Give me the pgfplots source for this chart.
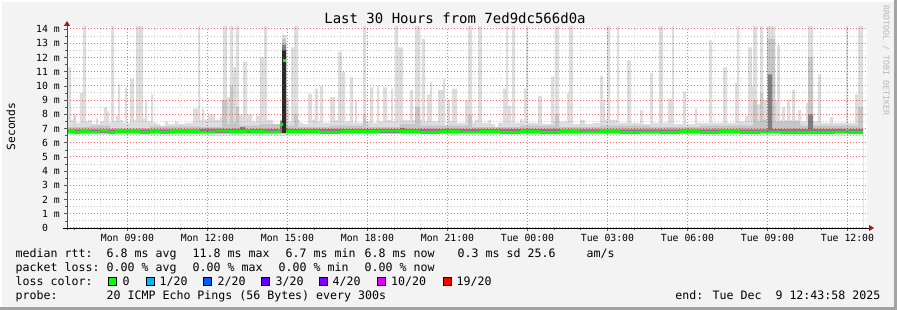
\documentclass[border=0pt]{standalone}
\usepackage{fontspec}
\setmainfont{DejaVu Sans Mono}
\usepackage{pgfplots}
\usepackage{pgfplotstable}
\pgfplotsset{compat=1.18}
\usetikzlibrary{arrows.meta}
\definecolor{canvas}{HTML}{F3F3F3}
\definecolor{frameDark}{HTML}{A3A3A3}
\definecolor{smokeA}{HTML}{DDDDDD}
\definecolor{smokeB}{HTML}{C6C6C6}
\definecolor{smokeD}{HTML}{2A2A2A}
\definecolor{smokeE}{HTML}{808080}
\definecolor{arrowred}{HTML}{A01818}
\definecolor{lossA}{HTML}{00FF00}
\definecolor{lossB}{HTML}{00B8FF}
\definecolor{lossC}{HTML}{0059FF}
\definecolor{lossD}{HTML}{5E00FF}
\definecolor{lossE}{HTML}{7E00FF}
\definecolor{lossF}{HTML}{DD00FF}
\definecolor{lossG}{HTML}{FF0000}
\definecolor{wmark}{HTML}{B8B8B8}

% x = time position in 2.25-minute units: 67 = Mon 06:43:58, 867 = Tue 12:43:58
\pgfplotstableread{
px v
67 7.4
68 11.3
71 7.6
73 8.0
76 7.4
80 9.5
83 14.5
86 7.5
88 7.6
92 7.3
96 7.7
98 7.3
100 7.5
104 8.5
107 8.2
109 7.4
111 14.5
114 7.5
116 7.9
118 10.1
120 7.6
123 7.4
125 9.9
127 7.4
130 10.5
134 7.6
136 14.5
143 7.7
145 9.0
147 7.5
151 9.4
153 7.4
157 7.3
160 7.2
165 7.5
168 7.3
175 7.5
178 7.3
185 7.4
193 8.4
198 14.5
200 7.6
202 8.4
204 7.6
208 8.0
215 7.6
220 7.8
223 14.5
227 9.2
230 14.5
233 11.3
236 14.5
239 8.0
243 11.7
247 8.0
252 7.5
256 7.9
260 12.0
264 14.5
267 7.6
273 7.3
280 7.4
282 13.6
286 9.1
289 7.5
291 12.7
294 14.5
298 7.6
300 7.4
303 7.3
308 9.45
312 7.6
315 9.8
318 7.5
320 10.0
323 7.4
330 9.2
335 7.6
338 12.4
342 11.0
345 7.5
350 10.6
353 7.4
355 9.0
357 7.4
363 14.5
366 7.5
370 9.9
373 7.4
377 10.0
379 7.5
383 9.9
387 7.6
391 9.8
393 7.5
395 14.5
398 12.7
403 7.6
410 9.7
413 7.6
415 14.5
420 7.6
422 13.3
425 7.5
427 9.4
430 10.3
432 7.5
438 9.7
443 10.5
445 7.2
447 9.0
450 7.5
452 9.8
457 7.4
465 9.0
468 14.5
472 7.4
475 7.6
478 14.5
482 7.4
488 7.6
491 7.3
495 7.1
498 7.4
503 9.8
506 14.5
508 8.6
511 7.4
512 14.5
515 7.4
520 7.7
523 7.4
524 9.8
526 14.5
528 7.4
538 9.3
542 7.3
551 10.65
554 7.5
555 14.5
559 7.5
567 9.5
569 14.5
573 7.3
580 7.6
585 7.3
593 7.4
600 10.7
603 9.0
605 7.6
607 14.5
610 7.6
617 14.5
619 7.4
627 11.8
631 7.4
640 8.3
643 7.3
650 10.9
653 7.4
659 14.5
663 7.4
668 9.1
672 14.5
674 7.3
683 9.6
686 7.3
695 8.4
697 7.4
709 13.2
712 7.4
723 11.3
727 7.4
735 10.2
737 14.5
739 7.5
745 7.9
748 12.7
752 10.0
753 14.5
757 8.7
760 14.5
763 9.0
767 14.5
775 9.0
777 12.9
780 7.6
782 8.5
785 7.6
787 9.0
790 7.6
792 9.7
795 7.6
798 8.3
801 7.5
806 8.8
808 14.5
813 7.5
818 10.8
821 7.4
830 7.8
833 7.4
846 14.5
848 7.4
855 9.4
858 14.5
863 14.5
}\smokehi

\pgfplotstableread{
px v
67 6.55
150 6.50
300 6.58
450 6.52
600 6.55
700 6.50
863 6.50
}\smokelo

\pgfplotstableread{
px v
67 7.10
90 7.20
110 7.00
150 7.15
200 7.10
222 9.0
227 7.3
230 10.0
233 7.4
236 8.5
239 7.2
260 7.3
280 7.6
282 13.3
286 7.2
294 8.0
298 7.1
330 7.2
363 8.0
366 7.1
400 7.3
415 8.5
420 7.2
468 8.0
472 7.1
520 7.2
555 8.0
559 7.1
600 7.2
650 7.1
700 7.2
753 9.0
757 7.5
760 9.5
763 7.6
767 13.3
775 7.5
800 7.2
808 12.0
813 7.2
858 8.5
863 8.5
}\midhi

\pgfplotstableread{
px v
67 6.62
863 6.62
}\midlo

\pgfplotstableread{
px v
67 6.93
200 6.98
240 7.10
245 6.95
280 7.50
282 12.9
286 6.95
400 7.05
405 6.95
560 6.93
768 10.8
772 6.95
808 8.0
813 6.95
863 6.95
}\darkhi

\pgfplotstableread{
px v
67 6.68
863 6.68
}\darklo

\pgfplotstableread{
px v
282 12.5
286 12.5
}\spikehi

\pgfplotstableread{
px v
67 6.78
75 6.74
80 6.80
90 6.76
100 6.82
108 6.74
115 6.78
125 6.80
140 6.74
150 6.78
160 6.72
170 6.78
185 6.80
200 6.76
215 6.82
230 6.78
247 6.90
250 6.78
265 6.76
278 6.80
280 7.30
283 11.8
286 6.80
300 6.78
320 6.74
340 6.80
360 6.78
380 6.82
400 6.78
420 6.74
440 6.80
460 6.76
480 6.80
500 6.74
520 6.78
540 6.72
560 6.78
580 6.76
600 6.80
620 6.74
640 6.76
660 6.72
680 6.78
700 6.74
720 6.78
740 6.72
760 6.76
780 6.74
800 6.70
820 6.72
835 6.76
846 6.86
849 6.74
863 6.74
}\median

\begin{document}
\begin{tikzpicture}
\useasboundingbox (0pt,0pt) rectangle (897pt,310pt);
\fill[canvas] (0pt,0pt) rectangle (897pt,310pt);
\fill[white] (0pt,0pt) rectangle (2pt,310pt);
\fill[white] (0pt,308pt) rectangle (897pt,310pt);
\fill[frameDark] (894pt,0pt) rectangle (897pt,310pt);
\fill[frameDark] (0pt,0pt) rectangle (897pt,3pt);

\begin{axis}[
  at={(67pt,82pt)}, anchor=south west,
  scale only axis, width=800pt, height=201pt,
  xmin=67, xmax=867, ymin=0, ymax=14.14,
  axis x line*=bottom, axis y line*=left,
  axis line style={draw=none},
  axis background/.style={fill=white},
  axis on top,
  xtick={127.459,207.459,...,847.5},
  xticklabels={Mon 09:00,Mon 12:00,Mon 15:00,Mon 18:00,Mon 21:00,Tue 00:00,Tue 03:00,Tue 06:00,Tue 09:00,Tue 12:00},
  minor xtick={74.126,100.7927,...,847.5},
  ytick={0,1,...,14},
  yticklabels={0\hphantom{\ m},1 m,2 m,3 m,4 m,5 m,6 m,7 m,8 m,9 m,10 m,11 m,12 m,13 m,14 m},
  minor ytick={0.5,1.5,...,13.5},
  grid=both,
  major x grid style={red, opacity=0.45, line width=1pt, dash pattern=on 1pt off 2pt},
  major y grid style={red, opacity=0.6, line width=1pt, dash pattern=on 1pt off 2pt},
  minor x grid style={black, opacity=0.12, line width=1pt, dash pattern=on 1pt off 2pt},
  minor y grid style={black, opacity=0.2, line width=1pt, dash pattern=on 1pt off 2pt},
  tick align=outside,
  major tick length=3pt, minor tick length=2pt,
  tick style={gray!70!black, line width=0.6pt},
  tick label style={font=\fontsize{9.8}{11}\selectfont, inner sep=0pt},
  xticklabel style={anchor=north},
  yticklabel style={anchor=east},
  xticklabel shift=3pt,
  yticklabel shift=4pt,
  /pgf/number format/assume math mode=true,
]
\addplot[const plot, fill=smokeA, draw=none] table[x=px,y=v] {\smokehi} \closedcycle;
\addplot[const plot, fill=smokeB, draw=none] table[x=px,y=v] {\midhi} \closedcycle;
\addplot[const plot, fill=smokeE, draw=none] table[x=px,y=v] {\darkhi} \closedcycle;
\addplot[const plot, fill=smokeD, draw=none] table[x=px,y=v] {\spikehi} \closedcycle;
\addplot[const plot, fill=smokeB, draw=none] table[x=px,y=v] {\darklo} \closedcycle;
\addplot[const plot, fill=smokeA, draw=none] table[x=px,y=v] {\midlo} \closedcycle;
\addplot[const plot, fill=white, draw=none] table[x=px,y=v] {\smokelo} \closedcycle;
\addplot[jump mark left, lossA, line width=2.8pt, mark=none] table[x=px,y=v] {\median};
\end{axis}

% axis lines with arrow heads
\draw[gray!60!black, line width=0.8pt, -{Triangle[length=5pt,width=6pt,color=arrowred]}] (67pt,80pt) -- (67pt,289pt);
\draw[black, line width=0.8pt, -{Triangle[length=5pt,width=6pt,color=arrowred]}] (63pt,82pt) -- (874pt,82pt);

% title, unit, watermark
\node[anchor=base, inner sep=0pt, font=\fontsize{14}{16}\selectfont] at (455pt,286pt) {Last 30 Hours from 7ed9dc566d0a};
\node[rotate=90, inner sep=0pt, font=\fontsize{11.3}{13}\selectfont] at (11pt,183.5pt) {Seconds};
\node[rotate=-90, anchor=west, inner sep=0pt, text=wmark, font=\fontsize{8.3}{10}\selectfont] at (886pt,305pt) {RRDTOOL / TOBI OETIKER};

% legend
\begin{scope}[every node/.style={inner sep=0pt, anchor=base west, font=\fontsize{11.6}{13}\selectfont}]
\node at (15.5pt,52.5pt) {median rtt:};
\node at (106.5pt,52.5pt) {6.8 ms avg};
\node at (192.5pt,52.5pt) {11.8 ms max};
\node at (285.5pt,52.5pt) {6.7 ms min};
\node at (364.5pt,52.5pt) {6.8 ms now};
\node at (457.5pt,52.5pt) {0.3 ms sd};
\node at (527.5pt,52.5pt) {25.6};
\node at (586.5pt,52.5pt) {am/s};
\node at (15.5pt,38.5pt) {packet loss:};
\node at (106.5pt,38.5pt) {0.00 \% avg};
\node at (192.5pt,38.5pt) {0.00 \% max};
\node at (278.5pt,38.5pt) {0.00 \% min};
\node at (364.5pt,38.5pt) {0.00 \% now};
\node at (15.5pt,24.5pt) {loss color:};
\node at (122.5pt,24.5pt) {0};
\node at (159.5pt,24.5pt) {1/20};
\node at (217.5pt,24.5pt) {2/20};
\node at (275.5pt,24.5pt) {3/20};
\node at (332.5pt,24.5pt) {4/20};
\node at (391pt,24.5pt) {10/20};
\node at (456.5pt,24.5pt) {19/20};
\node at (15.5pt,10.5pt) {probe:};
\node at (106.5pt,10.5pt) {20 ICMP Echo Pings (56 Bytes) every 300s};
\node[anchor=base east] at (880.5pt,10.5pt) {end: Tue Dec\ \ 9 12:43:58 2025};
\end{scope}
\begin{scope}[line width=0.6pt]
\filldraw[fill=lossA, draw=black] (108.5pt,24.3pt) rectangle (116.5pt,32.3pt);
\filldraw[fill=lossB, draw=black] (145.8pt,24.3pt) rectangle (153.8pt,32.3pt);
\filldraw[fill=lossC, draw=black] (203.5pt,24.3pt) rectangle (211.5pt,32.3pt);
\filldraw[fill=lossD, draw=black] (261.5pt,24.3pt) rectangle (269.5pt,32.3pt);
\filldraw[fill=lossE, draw=black] (319.5pt,24.3pt) rectangle (327.5pt,32.3pt);
\filldraw[fill=lossF, draw=black] (377.5pt,24.3pt) rectangle (385.5pt,32.3pt);
\filldraw[fill=lossG, draw=black] (443pt,24.3pt) rectangle (451pt,32.3pt);
\end{scope}
\end{tikzpicture}
\end{document}
